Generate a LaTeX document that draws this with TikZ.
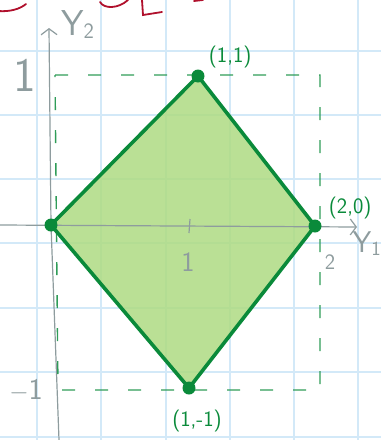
\documentclass[tikz,border=0pt]{standalone}
\usepackage{xcolor}
\usepackage{tikz}
\usetikzlibrary{
  arrows.meta,
  positioning
}
\definecolor{skGrid}{HTML}{D3E9F8}
\definecolor{skAxis}{HTML}{8E9C9E}
\definecolor{skGreen}{HTML}{0A8A3A}
\definecolor{skFill}{HTML}{AEDB82}
\definecolor{skRed}{HTML}{B0102C}
\newcommand{\axname}[2]{Y\raisebox{-0.1em}{\fontsize{#2}{#2}\selectfont #1}}
\tikzset{
  gridline/.style={skGrid, line width=1.2pt},
  axisline/.style={-{Straight Barb[length=6pt, width=16pt]}, skAxis, line width=1.2pt},
  boundbox/.style={draw=skGreen!85, dash pattern=on 13pt off 20pt, line width=1.4pt},
  hull/.style={draw=skGreen, line width=3.6pt, line join=round},
  hullfill/.style={fill=skFill, fill opacity=0.85},
  vertex/.style={circle, fill=skGreen, inner sep=0pt, minimum size=13pt},
  ptlabel/.style={font=\sffamily\fontsize{22}{23}\selectfont, text=skGreen, inner sep=1pt},
  ticklabel/.style={font=\sffamily\fontsize{#1}{#1}\selectfont, text=skAxis, inner sep=1pt},
  ticklabel/.default=28,
  scrawl/.style={skRed, line width=1.8pt, line cap=round}
}

\begin{document}
\begin{tikzpicture}[x=1pt, y=-1pt, node distance=6pt]
  \useasboundingbox (0,0) rectangle (381,440);
  \clip (0,0) rectangle (381,440);
  % graph paper
  \foreach \gx in {37,101,166,230,294,358} \draw[gridline] (\gx,0) -- (\gx,440);
  \foreach \gy in {51,115,179,243,308,372,437} \draw[gridline] (0,\gy) -- (381,\gy);
  % red writing cut off at the top
  \draw[scrawl] (-2,11) .. controls (10,12) and (20,9) .. (26,4);
  \draw[scrawl] (100,2) .. controls (104,9) and (118,9) .. (128,0);
  \draw[scrawl] (142,0) -- (143,15) -- (162,12);
  \draw[scrawl] (194,1) -- (203,0);
  % corners of the diamond
  \coordinate (o) at (51,225);
  \coordinate (a) at (198,76);
  \coordinate (b) at (315,226);
  \coordinate (c) at (189,388);
  \fill[hullfill] (o) -- (a) -- (b) -- (c) -- cycle;
  % axes
  \coordinate (xl) at (0,225);
  \coordinate (xr) at (357,227);
  \coordinate (yb) at (59,440);
  \coordinate (ym) at (51,225);
  \coordinate (yt) at (49,28);
  \draw[axisline] (xl) -- (xr);
  \draw[axisline] (yb) -- (ym) -- (yt);
  \draw[skAxis, line width=1.2pt] (190,219) -- (189,233);
  \node[ticklabel=36, anchor=base west] (ytwo) at (60,35) {\axname{2}{22}};
  \node[ticklabel=30, anchor=base east] (yone) at (382,252) {\axname{1}{20}};
  \node[ticklabel=48] (tk1) at (25,75) {1};
  \node[ticklabel=30] (tkm1) at (26,390) {$-$1};
  \node[ticklabel=28] (tkx1) at (188,262) {1};
  \node[ticklabel=22] (tkx2) at (330,262) {2};
  % box [0,2] x [-1,1]
  \draw[boundbox] (55,75) -- (320,75) -- (320,390) -- (58,390) -- cycle;
  \draw[hull] (o) -- (a) -- (b) -- (c) -- cycle;
  \node[vertex] (p00) at (o) {};
  \node[vertex] (p11) at (a) {};
  \node[vertex] (p20) at (b) {};
  \node[vertex] (p1m) at (c) {};
  \node[ptlabel, above right=2pt and 5pt of p11] (l11) {(1,1)};
  \node[ptlabel, above right=1pt and 8pt of p20] (l20) {(2,0)};
  \node[ptlabel, below=14pt of p1m, xshift=8pt] (l1m) {(1,-1)};
\end{tikzpicture}
\end{document}
